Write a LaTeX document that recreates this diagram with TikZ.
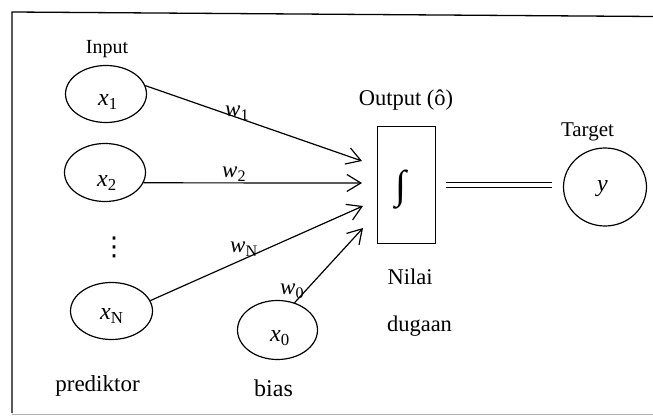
\documentclass[tikz,border=0pt]{standalone}
\usepackage{fontspec}
\setmainfont{Liberation Serif}
\newfontfamily\symfont{DejaVu Sans}
\usetikzlibrary{arrows.meta,shapes.geometric}
\newcommand\fs[1]{\fontsize{#1}{#1}\selectfont}
\newcommand\vx[2]{\textit{#1}\textsubscript{#2}}
\begin{document}
\begin{tikzpicture}[x=1pt,y=-1pt,
  ln/.style={line width=1.2pt},
  ell/.style={ln, draw, ellipse, inner sep=0pt},
  lab/.style={inner sep=0pt, anchor=base},
  var/.style={inner sep=0pt, anchor=base west, font=\fs{24}},
  wt/.style={inner sep=0pt, anchor=base west, font=\fs{23}},
  arr/.style={ln, -{Straight Barb[length=14pt,width=17pt]}}]
\useasboundingbox (0,0) rectangle (653,419);
% frame
\draw[line width=1.3pt] (12,413) -- (12,12) -- (653,16.5);
\draw[line width=1.5pt, black!30] (12,414.5) -- (653,414.5);
% nodes
\node[ell, minimum width=81pt, minimum height=57pt] (x1) at (106,94) {};
\node[ell, minimum width=81pt, minimum height=58pt] (x2) at (105,172.5) {};
\node[ell, minimum width=82pt, minimum height=57pt] (xN) at (111.5,311) {};
\node[ell, minimum width=80pt, minimum height=59pt] (x0) at (277.5,330) {};
\node[ell, minimum width=83pt, minimum height=78pt] (yc) at (605,187) {};
\node[ln, draw, minimum width=58pt, minimum height=117pt, inner sep=0pt] (box) at (406.5,185) {};
% texts inside
\node[var] (lx1) at (98,106) {\vx{x}{1}};
\node[var] (lx2) at (97,187) {\vx{x}{2}};
\node[var] (lxN) at (100,320) {\vx{x}{N}};
\node[var] (lx0) at (270,342) {\vx{x}{0}};
\node[var] (ly) at (597,192) {\textit{y}};
\node[inner sep=0pt] (int) at (401,190) {\fs{40}∫};
\node[inner sep=0pt] (dots) at (114,247) {\symfont\fs{26}⋮};
% labels
\node[lab, font=\fs{20}] (in) at (107,54) {Input};
\node[lab, font=\fs{22.5}] (out) at (406,106) {Output (ô)};
\node[lab, font=\fs{21}] (tg) at (587.5,137) {Target};
\node[lab, font=\fs{22.5}] (nil) at (410,285) {Nilai};
\node[lab, font=\fs{22.5}] (dug) at (419.5,332) {dugaan};
\node[lab, font=\fs{23}] (pred) at (97.5,391) {prediktor};
\node[lab, font=\fs{24}] (bias) at (273.5,396) {bias};
% weights
\node[wt] (w1) at (225,117) {\vx{w}{1}};
\node[wt] (w2) at (222,178) {\vx{w}{2}};
\node[wt] (wN) at (230,253) {\vx{w}{N}};
\node[wt] (w0) at (280,295) {\vx{w}{0}};
% arrow tips
\coordinate (t1) at (362,161);
\coordinate (t2) at (362,183);
\coordinate (t3) at (363,206);
\coordinate (t4) at (363,228);
\draw[arr] (x1.12) -- (t1);
\draw[arr] (x2.-15) -- (t2);
\draw[arr] (xN.15) -- (t3);
\draw[arr] (x0.58) -- (t4);
% double line
\draw[ln, double, double distance=3.2pt, shorten <=10pt, shorten >=11pt] (box.east) -- (box.east -| yc.west);
\end{tikzpicture}
\end{document}
